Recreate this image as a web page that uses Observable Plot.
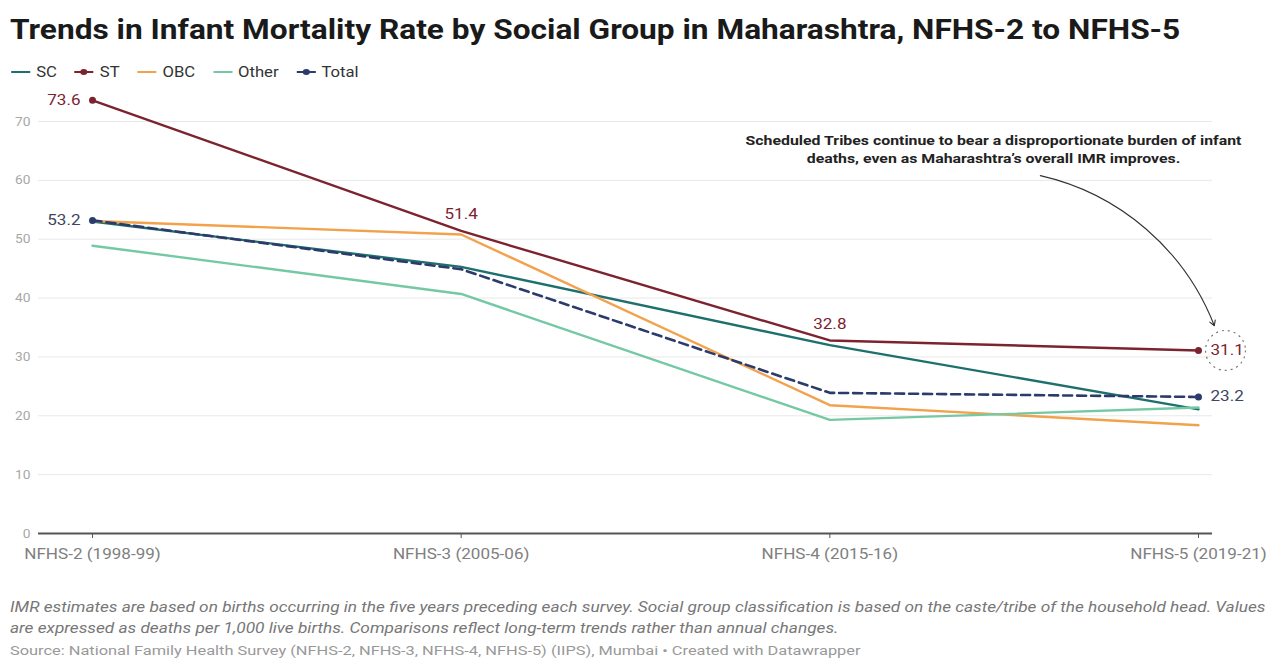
<!DOCTYPE html>
<html>
<head>
<meta charset="utf-8">
<script src="https://cdn.jsdelivr.net/npm/d3@7"></script>
<script src="https://cdn.jsdelivr.net/npm/@observablehq/plot@0.6"></script>
<style>
  html, body { margin: 0; padding: 0; background: #fff; }
  body { width: 1279px; height: 663px; position: relative; overflow: hidden; font-family: Roboto, "Noto Sans", sans-serif; }
  .wide { transform-origin: 0 50%; white-space: nowrap; }
  #title { position: absolute; left: 10px; top: 13px; font-size: 28px; font-weight: 700; color: #1a1a1a; transform: scaleX(1.13); }
  #legend { position: absolute; left: 10px; top: 64px; display: flex; gap: 14px; font-size: 14px; color: #333; transform: scaleX(1.19); }
  #legend .item { display: flex; align-items: center; gap: 4px; }
  #chart { position: absolute; left: 0; top: 88px; }
  #notes { position: absolute; left: 10px; top: 597px; font-size: 14px; font-style: italic; color: #777; line-height: 21px; transform: scaleX(1.232); }
  #source { position: absolute; left: 10px; top: 643px; font-size: 12.5px; color: #999; transform: scaleX(1.31); }
</style>
</head>
<body>
<div id="title" class="wide">Trends in Infant Mortality Rate by Social Group in Maharashtra, NFHS-2 to NFHS-5</div>
<div id="legend" class="wide"></div>
<div id="chart"></div>
<div id="notes" class="wide">IMR estimates are based on births occurring in the five years preceding each survey. Social group classification is based on the caste/tribe of the household head. Values<br>are expressed as deaths per 1,000 live births. Comparisons reflect long-term trends rather than annual changes.</div>
<div id="source" class="wide">Source: National Family Health Survey (NFHS-2, NFHS-3, NFHS-4, NFHS-5) (IIPS), Mumbai • Created with Datawrapper</div>
<script>
// Survey rounds (x axis)
const surveys = ["NFHS-2 (1998-99)", "NFHS-3 (2005-06)", "NFHS-4 (2015-16)", "NFHS-5 (2019-21)"];

// Infant mortality rate (deaths per 1,000 live births) by social group
const sc    = [53.0, 45.3, 32.0, 21.1];
const st    = [73.6, 51.4, 32.8, 31.1];
const obc   = [53.1, 50.8, 21.8, 18.4];
const other = [48.9, 40.7, 19.3, 21.4];
const total = [53.2, 44.9, 23.9, 23.2];

const groups = ["SC", "ST", "OBC", "Other", "Total"];
const colors = ["#1d706c", "#7c2330", "#f2a24c", "#74c9a4", "#2b3b6b"];
const yTicks = [0, 10, 20, 30, 40, 50, 60, 70];

const note = "Scheduled Tribes continue to bear a disproportionate burden of infant\ndeaths, even as Maharashtra\u2019s overall IMR improves.";

// Long-format table for the line marks
const series = {SC: sc, ST: st, OBC: obc, Other: other, Total: total};
const rows = groups.flatMap(g => series[g].map((v, i) => ({group: g, i, value: v})));
const solidRows = rows.filter(d => d.group !== "Total");
const totalRows = rows.filter(d => d.group === "Total");
const last = surveys.length - 1;
const colorOf = Object.fromEntries(groups.map((g, k) => [g, colors[k]]));

// Legend
const legend = document.getElementById("legend");
groups.forEach(g => {
  const withDot = g === "ST" || g === "Total";
  const item = document.createElement("div");
  item.className = "item";
  item.innerHTML = `<svg width="18" height="10"><line x1="1" x2="17" y1="5" y2="5" stroke="${colorOf[g]}" stroke-width="2"/>${withDot ? `<circle cx="9" cy="5" r="3" fill="${colorOf[g]}"/>` : ""}</svg><span>${g}</span>`;
  legend.appendChild(item);
});

const labelStyle = {stroke: "white", strokeWidth: 3, fontSize: 14};

const chart = Plot.plot({
  width: 1279,
  height: 490,
  marginLeft: 38,
  marginRight: 67,
  marginTop: 33,
  marginBottom: 45,
  style: {fontFamily: "Roboto, 'Noto Sans', sans-serif", fontSize: "12px", overflow: "visible", background: "transparent"},
  x: {domain: [-0.1465, 3.038]},
  y: {domain: [0, 70]},
  color: {domain: groups, range: colors},
  marks: [
    Plot.ruleY(yTicks.filter(t => t > 0), {stroke: "#e8e8e8", strokeWidth: 1}),
    Plot.axisY({ticks: yTicks, tickSize: 0, tickPadding: 8, color: "#a8a8a8", fontSize: 12.5, label: null}),
    Plot.axisX({ticks: d3.range(surveys.length), tickFormat: i => surveys[i], tickSize: 5, tickPadding: 11, stroke: "#555", color: "#808080", fontSize: 14, label: null}),
    Plot.ruleY([0], {stroke: "#555", strokeWidth: 2}),
    Plot.line(solidRows, {x: "i", y: "value", z: "group", stroke: "group", strokeWidth: 2.4}),
    Plot.line(totalRows, {x: "i", y: "value", stroke: "group", strokeWidth: 2.6, strokeDasharray: "9,5"}),
    // endpoint dots for ST and Total
    Plot.dot(rows.filter(d => (d.group === "ST" || d.group === "Total") && (d.i === 0 || d.i === last)),
      {x: "i", y: "value", fill: "group", r: 3.5}),
    // ST value labels
    Plot.text(rows.filter(d => d.group === "ST" && d.i === 0),
      {x: "i", y: "value", text: d => d.value.toFixed(1), textAnchor: "end", dx: -12, fill: colorOf.ST, ...labelStyle}),
    Plot.text(rows.filter(d => d.group === "ST" && d.i > 0 && d.i < last),
      {x: "i", y: "value", text: d => d.value.toFixed(1), dy: -16, fill: colorOf.ST, ...labelStyle}),
    Plot.text(rows.filter(d => d.group === "ST" && d.i === last),
      {x: "i", y: "value", text: d => d.value.toFixed(1), textAnchor: "start", dx: 12, fill: colorOf.ST, ...labelStyle}),
    // Total value labels
    Plot.text(rows.filter(d => d.group === "Total" && d.i === 0),
      {x: "i", y: "value", text: d => d.value.toFixed(1), textAnchor: "end", dx: -12, fill: "#3c4660", ...labelStyle}),
    Plot.text(rows.filter(d => d.group === "Total" && d.i === last),
      {x: "i", y: "value", text: d => d.value.toFixed(1), textAnchor: "start", dx: 12, fill: "#3c4660", ...labelStyle}),
    // dashed highlight ring around the latest ST value
    Plot.dot(rows.filter(d => d.group === "ST" && d.i === last),
      {x: "i", y: "value", dx: 27, r: 20, stroke: "#777", strokeWidth: 1.2, strokeDasharray: "2,4", fill: "none"}),
    // annotation
    Plot.text([{x: 2.444, y: 65.4}], {x: "x", y: "y", text: () => note, fontWeight: 700, fontSize: 13, lineHeight: 1.4, fill: "#222", textAnchor: "middle"}),
    Plot.arrow([{x1: 2.571, y1: 60.8, x2: 3.043, y2: 35.3}],
      {x1: "x1", y1: "y1", x2: "x2", y2: "y2", bend: 28, stroke: "#333", strokeWidth: 1.1, headLength: 8})
  ]
});

// Widen the chart's text horizontally around each label's own anchor point
const widen = {"x-axis tick label": 1.22, "y-axis tick label": 1.1, "text": 1.22};
for (const [label, s] of Object.entries(widen)) {
  chart.querySelectorAll(`g[aria-label="${label}"] text`).forEach(t => {
    const tr = t.getAttribute("transform");
    if (tr) t.setAttribute("transform", `${tr} scale(${s},1)`);
  });
}
document.getElementById("chart").appendChild(chart);
</script>
</body>
</html>
